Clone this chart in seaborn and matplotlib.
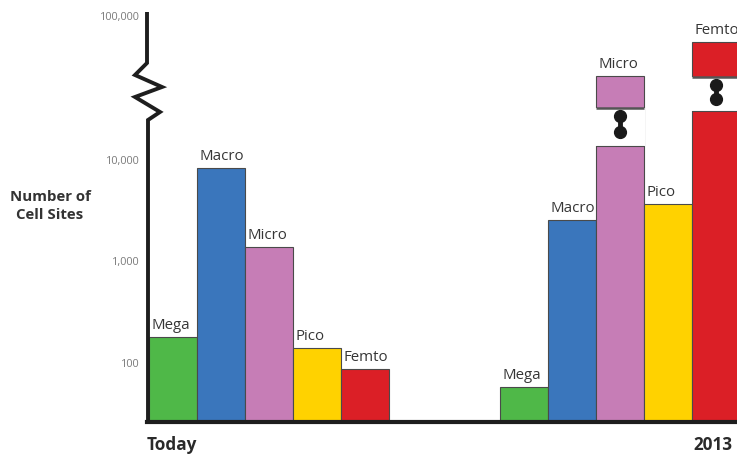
import numpy as np
import pandas as pd
import matplotlib
matplotlib.use("Agg")
import matplotlib.pyplot as plt
import seaborn as sns
from matplotlib.patches import Rectangle
from matplotlib.ticker import NullLocator

# ---- data -------------------------------------------------------------
periods = ["Today", "2013"]
cell_types = ["Mega", "Macro", "Micro", "Pico", "Femto"]
sites_today = [180, 8300, 1380, 140, 87]
sites_2013 = [58, 2550, 38000, 3650, 66000]
colors = ["#4fb848", "#3a76bc", "#c67db6", "#ffd200", "#db1f26"]
y_ticks = [100, 1000, 10000, 100000]
y_tick_labels = ["100", "1,000", "10,000", "100,000"]
# cut-out stretch (low, high) of the two tall 2013 bars
breaks_2013 = {"Micro": (12500, 23000), "Femto": (22000, 37500)}

df = pd.DataFrame({
    "period": np.repeat(periods, len(cell_types)),
    "type": cell_types * len(periods),
    "sites": sites_today + sites_2013,
})

# ---- log axis, stretched above the break at 10,000 ---------------------
STRETCH = 1.42


def fwd(v):
    t = np.log10(np.maximum(np.asarray(v, dtype=float), 1e-9))
    return np.where(t > 4, 4 + (t - 4) * STRETCH, t)


def inv(t):
    t = np.asarray(t, dtype=float)
    return 10 ** np.where(t > 4, 4 + (t - 4) / STRETCH, t)


sns.set_style("white")
plt.rcParams["font.family"] = ["Open Sans", "DejaVu Sans"]

W, H = 737, 455
fig = plt.figure(figsize=(W / 100, H / 100), dpi=100)
ax_left, ax_right, ax_bottom, ax_top = 147, 745, 422, 12
ax = fig.add_axes([ax_left / W, 1 - ax_bottom / H,
                   (ax_right - ax_left) / W, (ax_bottom - ax_top) / H])

sns.barplot(data=df, x="period", y="sites", hue="type", order=periods,
            hue_order=cell_types, palette=colors, saturation=1,
            width=0.684, edgecolor="#4a4a4a", linewidth=0.8,
            errorbar=None, legend=False, ax=ax)

ax.set_yscale("function", functions=(fwd, inv))
ax.set_ylim(26, float(inv(5.458)))
ax.set_xlim(-0.348, 1.356)
ax.set_yticks(y_ticks, y_tick_labels)
ax.yaxis.set_minor_locator(NullLocator())
ax.tick_params(axis="y", length=0, pad=5, labelsize=7.8,
               labelcolor="#7a7a7a")
ax.set_xticks([])
ax.set_xlabel("")
ax.set_ylabel("")
for side in ("top", "right", "left"):
    ax.spines[side].set_visible(False)
ax.spines["bottom"].set_linewidth(3)
ax.spines["bottom"].set_color("#1e1e1e")
ax.spines["bottom"].set_zorder(5)

# ---- bar labels ---------------------------------------------------------
for ctype, cont in zip(cell_types, ax.containers):
    for period, bar in zip(periods, cont):
        ax.annotate(ctype, xy=(bar.get_x(), bar.get_height()),
                    xytext=(1.8, 5.8), textcoords="offset points",
                    ha="left", va="baseline", fontsize=10.8,
                    fontweight="medium", color="#363636", clip_on=False)

# ---- broken bars: white gap, edges and a pair of dots ---------------------
cont_by_type = dict(zip(cell_types, ax.containers))
for ctype, (low, high) in breaks_2013.items():
    bar = cont_by_type[ctype][periods.index("2013")]
    x0, w = bar.get_x(), bar.get_width()
    ax.add_patch(Rectangle((x0 - 0.004, low), w + 0.008, high - low,
                           facecolor="white", edgecolor="none", zorder=3))
    ax.hlines(high, x0, x0 + w, color="#555555", lw=1.8, zorder=4)
    ax.hlines(low, x0, x0 + w, color="#4a4a4a", lw=0.8, zorder=4)
    t_lo, t_hi = float(fwd(low)), float(fwd(high))
    dots = [float(inv(t_lo + f * (t_hi - t_lo))) for f in (0.36, 0.78)]
    cx = x0 + w / 2
    ax.plot([cx, cx], dots, color="#1a1a1a", lw=3.5, zorder=4,
            solid_capstyle="butt")
    ax.plot([cx, cx], dots, "o", color="#1a1a1a", ms=8.5, zorder=4)

# ---- vertical axis drawn with its break zigzag ------------------------------
axw, axh = ax_right - ax_left, ax_bottom - ax_top
zig_px = [(0, ax_top), (0, 63), (-12, 75), (15, 87), (-12, 97),
          (13, 112), (1, 120), (1, ax_bottom)]
zx = [dx / axw for dx, _ in zig_px]
zy = [(ax_bottom - py) / axh for _, py in zig_px]
ax.plot(zx, zy, color="#1e1e1e", lw=2.8, transform=ax.transAxes,
        clip_on=False, zorder=6, solid_joinstyle="miter",
        solid_capstyle="butt")

# ---- axis titles ---------------------------------------------------------
fig.text(50 / W, 1 - 206 / H, "Number of\nCell Sites", ha="center",
         va="center", fontsize=10.8, fontweight="bold", color="#333333",
         linespacing=1.45)

xtrans = ax.get_xaxis_transform()
last_bar = cont_by_type["Femto"][1]
ax.text(ax.get_xlim()[0], -0.056, "Today", transform=xtrans, ha="left",
        va="center", fontsize=12.3, fontweight="bold", color="#2a2a2a")
ax.text(last_bar.get_x() + 0.005, -0.056, "2013", transform=xtrans,
        ha="left", va="center", fontsize=12.3, fontweight="bold",
        color="#2a2a2a")

fig.savefig("out.png", dpi=100, facecolor="white")
